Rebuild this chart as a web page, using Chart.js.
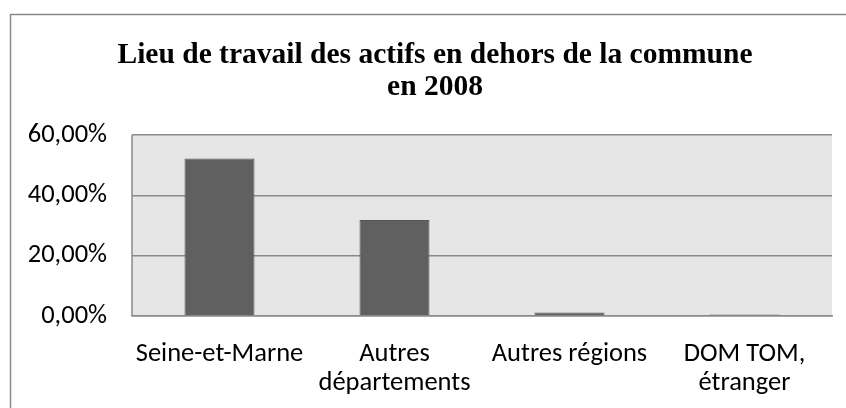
<!DOCTYPE html>
<html>
<head>
<meta charset="utf-8">
<script src="https://cdn.jsdelivr.net/npm/chart.js@4.4.1/dist/chart.umd.min.js"></script>
<style>
  html, body { margin: 0; padding: 0; background: #ffffff; }
  #wrap { position: relative; width: 846px; height: 408px; }
</style>
</head>
<body>
<div id="wrap"><canvas id="c" width="846" height="408"></canvas></div>
<script>
const titleLines = ["Lieu de travail des actifs en dehors de la commune", "en 2008"];
const categories = [["Seine-et-Marne"], ["Autres", "départements"], ["Autres régions"], ["DOM TOM,", "étranger"]];
const values = [52.2, 31.8, 1.2, 0.5];
const yTicks = [0, 20, 40, 60];

const frame = {
  id: 'frame',
  afterLayout(chart) {
    if (chart.titleBlock) { chart.titleBlock.left += 38; }
  },
  beforeDraw(chart) {
    const ctx = chart.ctx, a = chart.chartArea;
    ctx.save();
    ctx.fillStyle = '#ffffff';
    ctx.fillRect(0, 0, chart.width, chart.height);
    ctx.strokeStyle = '#888888';
    ctx.lineWidth = 1.5;
    ctx.strokeRect(10.5, 14.5, chart.width + 20, chart.height + 20);
    ctx.fillStyle = '#e6e6e6';
    ctx.fillRect(a.left, a.top, a.right - a.left, a.bottom - a.top);
    ctx.restore();
  },
  afterDraw(chart) {
    const ctx = chart.ctx, a = chart.chartArea;
    ctx.save();
    ctx.strokeStyle = '#8a8a8a';
    ctx.lineWidth = 1.5;
    ctx.beginPath();
    ctx.moveTo(a.left, a.top); ctx.lineTo(a.left, a.bottom);
    ctx.stroke();
    ctx.restore();
  }
};

new Chart(document.getElementById('c'), {
  type: 'bar',
  data: {
    labels: categories,
    datasets: [{
      data: values,
      backgroundColor: '#606060',
      borderColor: '#555555',
      borderWidth: 1,
      categoryPercentage: 0.8,
      barPercentage: 0.5
    }]
  },
  options: {
    responsive: false,
    animation: false,
    layout: { padding: { top: 40, left: 0, right: 14, bottom: 0 } },
    plugins: {
      legend: { display: false },
      tooltip: { enabled: false },
      title: {
        display: true,
        text: titleLines,
        color: '#000000',
        font: { family: "'Liberation Serif', 'Times New Roman', serif", size: 29.5, weight: 'bold', lineHeight: 1.07 },
        padding: { top: 0, bottom: 31.9 }
      }
    },
    scales: {
      x: {
        grid: { display: false, drawTicks: false },
        border: { display: true, color: '#8a8a8a', width: 1.5 },
        ticks: {
          color: '#000000',
          font: { family: "Carlito, Calibri, Lato, sans-serif", size: 26.5, lineHeight: 1.08 },
          padding: 24,
          maxRotation: 0,
          autoSkip: false
        },
        afterFit(scale) { scale.height = 92; }
      },
      y: {
        min: 0,
        max: 60,
        afterBuildTicks(scale) { scale.ticks = yTicks.map(v => ({ value: v })); },
        grid: { color: '#8a8a8a', lineWidth: 1.5, drawTicks: false },
        border: { display: false },
        ticks: {
          color: '#000000',
          font: { family: "Carlito, Calibri, Lato, sans-serif", size: 26.5 },
          padding: 25,
          callback: (v) => v.toFixed(2).replace('.', ',') + '%'
        },
        afterFit(scale) { scale.width = 132; }
      }
    }
  },
  plugins: [frame]
});
</script>
</body>
</html>
